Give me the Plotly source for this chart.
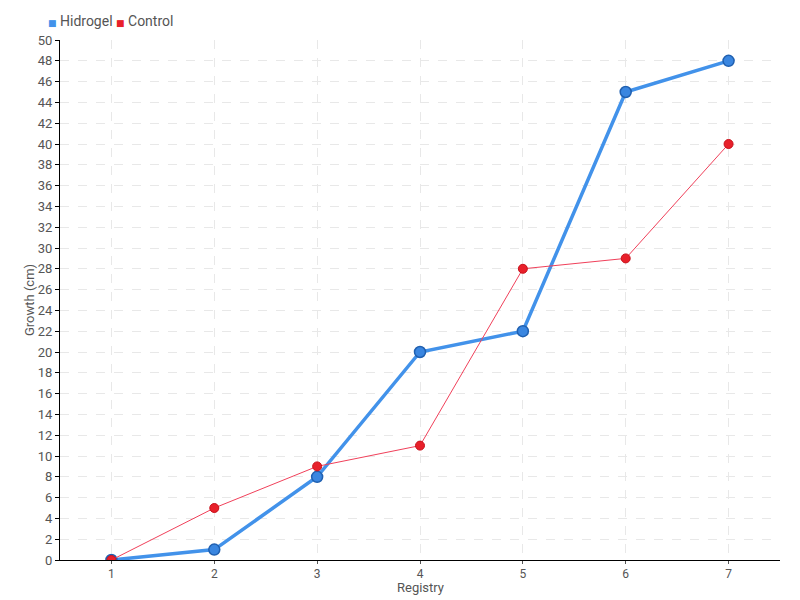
import plotly.graph_objects as go

# data
registry = [1, 2, 3, 4, 5, 6, 7]
hidrogel = [0, 1, 8, 20, 22, 45, 48]
control = [0, 5, 9, 11, 28, 29, 40]

blue = "#4292ea"
red = "#e8202a"
font = "Roboto, DejaVu Sans, sans-serif"

fig = go.Figure()

fig.add_trace(go.Scatter(
    x=registry, y=hidrogel, mode="lines+markers", name="Hidrogel",
    line=dict(color=blue, width=3.5),
    marker=dict(color="#3a86e0", size=11, line=dict(color="#2060b0", width=1.5))))
fig.add_trace(go.Scatter(
    x=registry, y=control, mode="lines+markers", name="Control",
    line=dict(color="#f0405a", width=1),
    marker=dict(color=red, size=9, line=dict(color="#c8101a", width=1))))

# compact legend like the original (small square swatch right before the label)
fig.add_annotation(
    xref="paper", yref="paper", x=-0.02, y=1.0, yshift=9,
    xanchor="left", yanchor="bottom", showarrow=False,
    font=dict(size=14, color="#555555"),
    text=f"<span style='color:{blue};font-size:9px'>■</span> Hidrogel "
         f"<span style='color:{red};font-size:9px'>■</span> Control")

# x title sits tight under the tick labels
fig.add_annotation(
    xref="paper", yref="paper", x=0.5, y=-0.052, xanchor="center",
    yanchor="middle", showarrow=False, text="Registry",
    font=dict(size=13, color="#555555"))

fig.update_layout(
    width=800, height=600, showlegend=False,
    margin=dict(l=60, r=20, t=40, b=40),
    plot_bgcolor="white", paper_bgcolor="white",
    font=dict(family=font, size=13, color="#555555"),
)
fig.update_xaxes(
    range=[0.5, 7.5], tickvals=registry, ticks="outside", ticklen=3,
    tickcolor="#555555", tickfont=dict(size=12),
    showline=True, linecolor="black", linewidth=1,
    showgrid=True, gridcolor="#e8e8e8", griddash="dash", zeroline=False,
    automargin=False)
fig.update_yaxes(
    range=[0, 50], dtick=2, ticks="outside", ticklen=4, tickcolor="black",
    showline=True, linecolor="black", linewidth=1,
    showgrid=True, gridcolor="#e8e8e8", griddash="dash", zeroline=False,
    automargin=False,
    title=dict(text="Growth (cm)", standoff=0, font=dict(size=13)))

# page body has a default 8px margin; drop it so the figure sits at 0,0
fig.write_html("out.html", config={"displayModeBar": False},
               post_script="document.body.style.margin='0';")
